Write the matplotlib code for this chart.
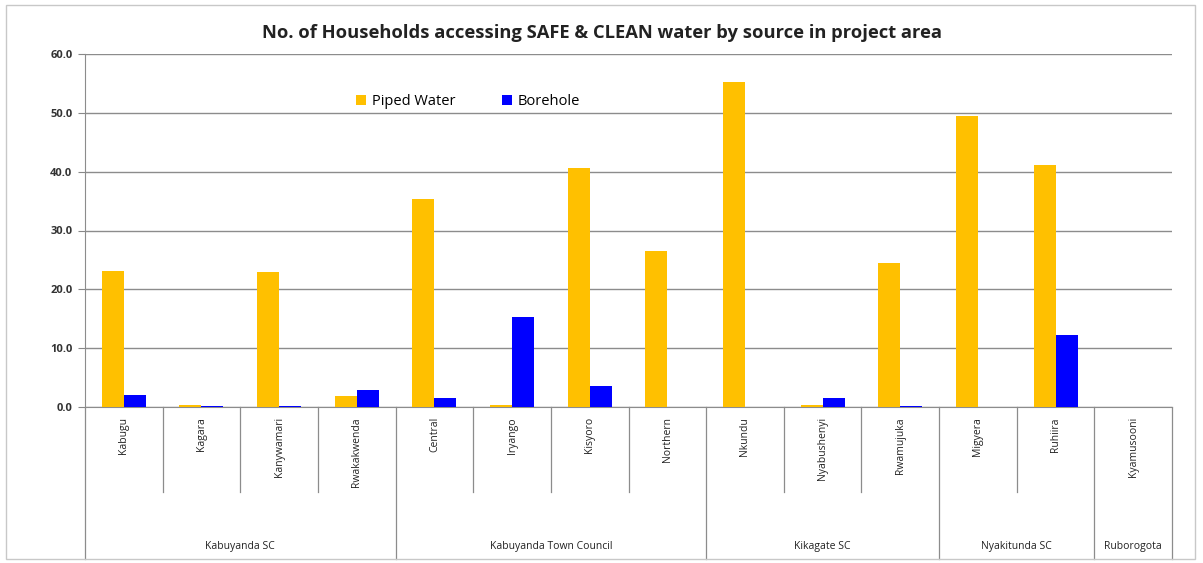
import matplotlib
matplotlib.use("Agg")
import matplotlib.pyplot as plt
import matplotlib.transforms as mtransforms
from matplotlib.patches import Rectangle
import numpy as np

categories = ["Kabugu", "Kagara", "Kanywamari", "Rwakakwenda",
              "Central", "Iryango", "Kisyoro", "Northern",
              "Nkundu", "Nyabushenyi", "Rwamujuka",
              "Migyera", "Ruhiira",
              "Kyamusooni"]
groups = ["Kabuyanda SC", "Kabuyanda Town Council", "Kikagate SC", "Nyakitunda SC", "Ruborogota"]
group_sizes = [4, 4, 3, 2, 1]
piped = [23.1, 0.3, 23.0, 1.8, 35.4, 0.4, 40.6, 26.6, 55.3, 0.3, 24.4, 49.4, 41.2, 0.0]
borehole = [2.0, 0.1, 0.1, 2.9, 1.5, 15.3, 3.6, 0.0, 0.0, 1.5, 0.1, 0.0, 12.3, 0.0]
yticks = [0, 10, 20, 30, 40, 50, 60]

plt.rcParams['font.family'] = ['Open Sans', 'DejaVu Sans']

W, H = 1203, 563
fig = plt.figure(figsize=(W / 100, H / 100), dpi=100)
ax = fig.add_axes([85 / W, 1 - 407 / H, (1172 - 85) / W, (407 - 54) / H])

n = len(categories)
x = np.arange(n)
bw = 0.283
ax.bar(x - bw / 2, piped, width=bw, color="#FFC000", label="Piped Water", zorder=3)
ax.bar(x + bw / 2, borehole, width=bw, color="#0000FF", label="Borehole", zorder=3)

ax.set_xlim(-0.5, n - 0.5)
ax.set_ylim(0, 60)
ax.set_yticks(yticks)
ax.set_yticklabels([f"{v:.1f}" for v in yticks], fontsize=8, fontweight="bold", color="#333333")
ax.tick_params(axis="y", length=5, width=0.8, color="#888888", pad=4)
ax.set_xticks([])
ax.yaxis.grid(True, color="#8c8c8c", linewidth=1.0, zorder=0)
for s in ["top", "right"]:
    ax.spines[s].set_visible(False)
ax.spines["left"].set_color("#8c8c8c")
ax.spines["bottom"].set_color("#8c8c8c")

trans = mtransforms.blended_transform_factory(ax.transData, ax.transAxes)
inner_depth = -85 / 353
outer_depth = -152 / 353

ax.plot([-0.5, -0.5], [0, outer_depth], transform=trans, color="#8c8c8c", lw=0.9, clip_on=False)

for i, c in enumerate(categories):
    ax.text(i, -10 / 353, c, transform=trans, rotation=90, ha="center", va="top",
            fontsize=7.5, color="#222222")
group_edges = np.cumsum(group_sizes)
for i in range(1, n + 1):
    depth = outer_depth if i in group_edges else inner_depth
    ax.plot([i - 0.5, i - 0.5], [0, depth], transform=trans, color="#8c8c8c", lw=0.9, clip_on=False)

start = 0
for g, sz in zip(groups, group_sizes):
    center = start + (sz - 1) / 2
    ax.text(center, -140 / 353, g, transform=trans, ha="center", va="center",
            fontsize=7.5, color="#222222")
    start += sz

fig.text(0.5, 1 - 33 / H, "No. of Households accessing SAFE & CLEAN water by source in project area",
         ha="center", va="center", fontsize=13.2, fontweight="bold", color="#222222")

leg = ax.legend(loc="upper left", bbox_to_anchor=((350 - 85) / 1087, 1 - (88 - 54) / 353),
                ncol=2, frameon=False, fontsize=10.5, handlelength=0.7, handleheight=0.7,
                columnspacing=3.2, handletextpad=0.4, borderaxespad=0)

fig.patches.append(Rectangle((6 / W, 4 / H), (1195 - 6) / W, (558 - 4) / H, transform=fig.transFigure,
                             fill=False, edgecolor="#c8c8c8", lw=1.0))

fig.savefig("out.png", dpi=100)
